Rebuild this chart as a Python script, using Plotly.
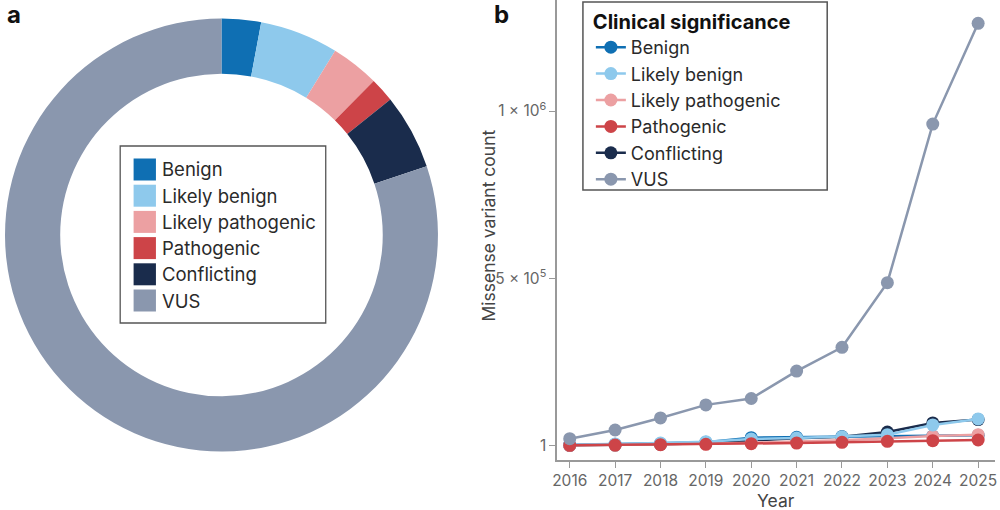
import plotly.graph_objects as go

# ---------------- data ----------------
categories = ["Benign", "Likely benign", "Likely pathogenic", "Pathogenic", "Conflicting", "VUS"]
colors = ["#0f6fb3", "#8ec9ec", "#eca0a2", "#cd4448", "#1a2c4c", "#8a97ae"]

# panel a: share of missense variants by clinical significance
donut_counts = [46000, 91700, 56500, 28600, 87800, 1254000]

# panel b: missense variant counts per year
years = [2016, 2017, 2018, 2019, 2020, 2021, 2022, 2023, 2024, 2025]
benign = [2000, 4000, 6000, 10000, 24000, 25000, 27000, 27000, 29000, 31000]
likely_benign = [3000, 5000, 8000, 12000, 20000, 23000, 27000, 33000, 62000, 80000]
likely_pathogenic = [1000, 2000, 4000, 6000, 9000, 12000, 16000, 22000, 29000, 33000]
pathogenic = [1000, 2000, 3000, 4000, 6000, 8000, 10000, 13000, 15000, 17000]
conflicting = [1000, 2000, 4000, 7000, 16000, 22000, 27000, 41000, 68000, 78000]
vus = [21000, 47000, 83000, 122000, 141000, 223000, 294000, 487000, 961000, 1262000]
series = [benign, likely_benign, likely_pathogenic, pathogenic, conflicting, vus]

y_tickvals = [1, 500000, 1000000]
y_ticktext = ["1", "5 × 10<sup>5</sup>", "1 × 10<sup>6</sup>"]

# ---------------- figure ----------------
W, H = 1000, 510
FONT = "Inter"
fig = go.Figure()

def px_x(x):
    return x / W

def px_y(y):
    return 1 - y / H

# donut
fig.add_trace(go.Pie(
    labels=categories, values=donut_counts,
    marker=dict(colors=colors, line=dict(width=0)),
    hole=0.745, sort=False, direction="clockwise", rotation=0,
    textinfo="none", showlegend=False,
    domain=dict(x=[px_x(0), px_x(436)], y=[px_y(453), px_y(17)]),
))

# line chart (drawing order chosen so overlaps look like the reference; legend order via legendrank)
draw_order = [4, 0, 2, 1, 3, 5]
for idx in draw_order:
    name, col, vals = categories[idx], colors[idx], series[idx]
    fig.add_trace(go.Scatter(
        x=years, y=vals, name=name, mode="lines+markers",
        line=dict(color=col, width=2.5),
        marker=dict(color=col, size=13),
        legendrank=idx + 1,
        xaxis="x", yaxis="y",
    ))

shapes = []
annotations = []

# frame of the line-chart legend
shapes.append(dict(type="rect", xref="paper", yref="paper",
                   x0=px_x(582), x1=px_x(828), y0=px_y(190), y1=px_y(2),
                   line=dict(color="#555555", width=1.5), fillcolor="white", layer="below"))

# donut legend box (manual, built from categories/colors)
shapes.append(dict(type="rect", xref="paper", yref="paper",
                   x0=px_x(116), x1=px_x(323), y0=px_y(323), y1=px_y(146),
                   line=dict(color="#555555", width=1.3), fillcolor="white", layer="above"))
for i, (name, col) in enumerate(zip(categories, colors)):
    top = 158.5 + 26.2 * i
    shapes.append(dict(type="rect", xref="paper", yref="paper",
                       x0=px_x(129.5), x1=px_x(152), y0=px_y(top + 22), y1=px_y(top),
                       line=dict(width=0), fillcolor=col, layer="above"))
    annotations.append(dict(text=name, xref="paper", yref="paper",
                            x=px_x(156), y=px_y(top + 11), xanchor="left", yanchor="middle",
                            showarrow=False, font=dict(family=FONT, size=18.5, color="#2a2a2a")))

# panel letters
annotations.append(dict(text="<b>a</b>", xref="paper", yref="paper", x=px_x(0), y=px_y(14),
                        xanchor="left", yanchor="middle", showarrow=False,
                        font=dict(family=FONT, size=24, color="#111111")))
annotations.append(dict(text="<b>b</b>", xref="paper", yref="paper", x=px_x(490), y=px_y(14),
                        xanchor="left", yanchor="middle", showarrow=False,
                        font=dict(family=FONT, size=24, color="#111111")))
# axis titles
annotations.append(dict(text="Missense variant count", xref="paper", yref="paper",
                        x=px_x(486), y=px_y(226), textangle=-90, xanchor="center", yanchor="middle",
                        showarrow=False, font=dict(family=FONT, size=17.5, color="#444444")))
annotations.append(dict(text="Year", xref="paper", yref="paper",
                        x=px_x(776), y=px_y(500), xanchor="center", yanchor="middle",
                        showarrow=False, font=dict(family=FONT, size=17.5, color="#444444")))

axis_common = dict(showgrid=False, zeroline=False, showline=True, linecolor="#999999", linewidth=1.5,
                   ticks="outside", ticklen=6, tickcolor="#999999", tickwidth=1.2,
                   tickfont=dict(family=FONT, size=15.5, color="#666666"))

fig.update_layout(
    width=W, height=H,
    margin=dict(l=0, r=0, t=0, b=0),
    paper_bgcolor="white", plot_bgcolor="white",
    font=dict(family=FONT),
    xaxis=dict(domain=[px_x(556), px_x(997)], range=[2015.722, 2025.372],
               tickmode="array", tickvals=years, ticktext=[str(y) for y in years],
               anchor="y", **axis_common),
    yaxis=dict(domain=[px_y(460), 1.0], range=[-42700, 1331700],
               tickmode="array", tickvals=y_tickvals, ticktext=y_ticktext,
               anchor="x", **axis_common),
    legend=dict(x=px_x(590), y=px_y(3), xanchor="left", yanchor="top",
                borderwidth=0, bgcolor="rgba(0,0,0,0)",
                font=dict(family=FONT, size=18, color="#2a2a2a"),
                title=dict(text="<b>Clinical significance</b>", font=dict(family=FONT, size=20, color="#111111")),
                tracegroupgap=0, itemwidth=30),
    shapes=shapes, annotations=annotations,
)

fig.write_html("out.html", config={"displayModeBar": False},
               post_script="document.body.style.margin='0';document.body.style.overflow='hidden';")
